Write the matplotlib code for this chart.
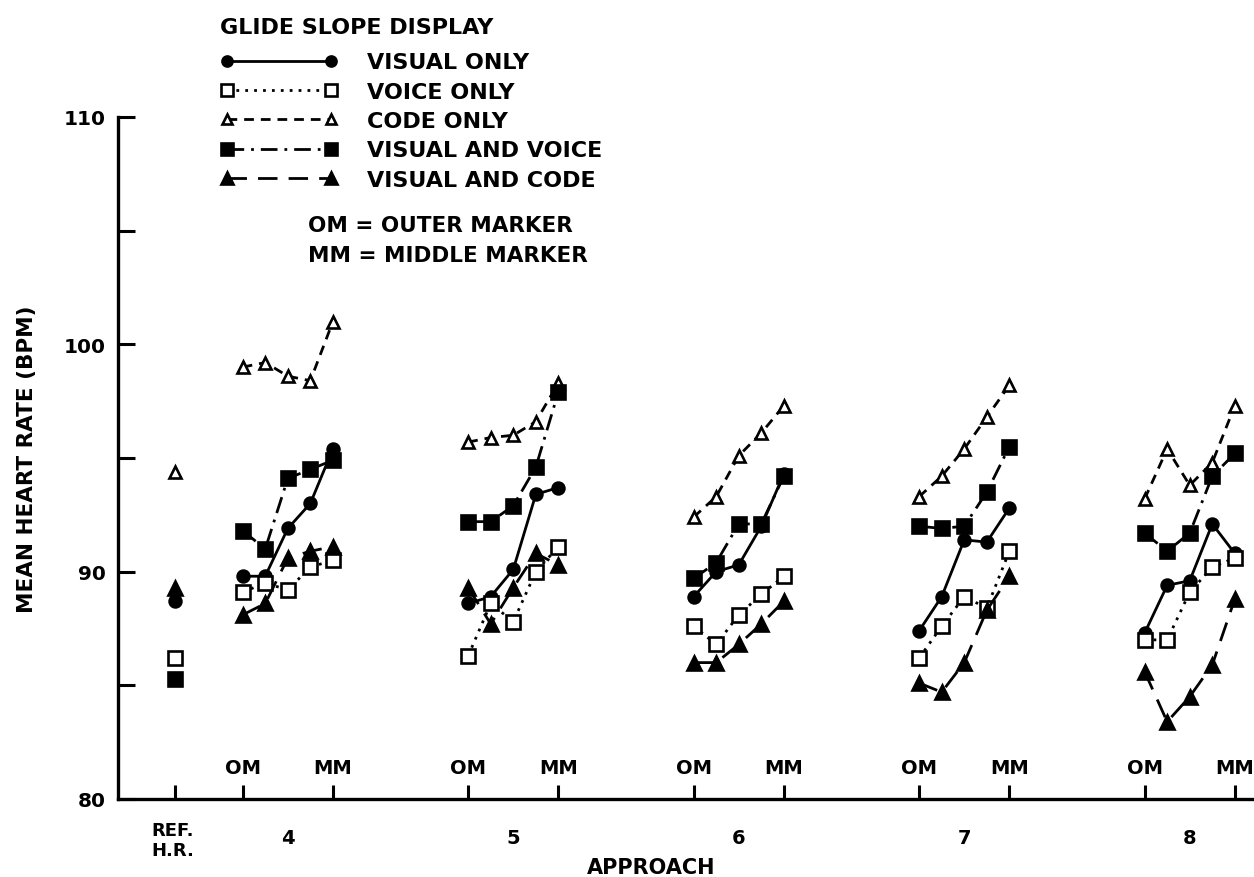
import matplotlib
matplotlib.use("Agg")
import matplotlib.pyplot as plt

# ---------- data (mean heart rate, bpm) ----------
approaches = ["4", "5", "6", "7", "8"]
series_names = ["VISUAL ONLY", "VOICE ONLY", "CODE ONLY",
                "VISUAL AND VOICE", "VISUAL AND CODE"]

# reference heart rate per display
ref_hr = [88.7, 86.2, 94.4, 85.3, 89.3]

# 5 points per approach, OM -> MM
visual_only = [[89.8, 89.8, 91.9, 93.0, 95.4],
               [88.6, 88.9, 90.1, 93.4, 93.7],
               [88.9, 90.0, 90.3, 92.0, 94.3],
               [87.4, 88.9, 91.4, 91.3, 92.8],
               [87.3, 89.4, 89.6, 92.1, 90.8]]
voice_only = [[89.1, 89.5, 89.2, 90.2, 90.5],
              [86.3, 88.6, 87.8, 90.0, 91.1],
              [87.6, 86.8, 88.1, 89.0, 89.8],
              [86.2, 87.6, 88.9, 88.4, 90.9],
              [87.0, 87.0, 89.1, 90.2, 90.6]]
code_only = [[99.0, 99.2, 98.6, 98.4, 101.0],
             [95.7, 95.9, 96.0, 96.6, 98.3],
             [92.4, 93.3, 95.1, 96.1, 97.3],
             [93.3, 94.2, 95.4, 96.8, 98.2],
             [93.2, 95.4, 93.8, 94.8, 97.3]]
visual_voice = [[91.8, 91.0, 94.1, 94.5, 94.9],
                [92.2, 92.2, 92.9, 94.6, 97.9],
                [89.7, 90.4, 92.1, 92.1, 94.2],
                [92.0, 91.9, 92.0, 93.5, 95.5],
                [91.7, 90.9, 91.7, 94.2, 95.2]]
visual_code = [[88.1, 88.6, 90.6, 90.9, 91.1],
               [89.3, 87.7, 89.3, 90.8, 90.3],
               [86.0, 86.0, 86.8, 87.7, 88.7],
               [85.1, 84.7, 86.0, 88.3, 89.8],
               [85.6, 83.4, 84.5, 85.9, 88.8]]

all_series = [visual_only, voice_only, code_only, visual_voice, visual_code]

# ---------- styles ----------
FONT = {"family": "DejaVu Sans", "weight": "bold"}
LW = 2.0
styles = [
    dict(marker="o", ls="-", mfc="black", ms=8.5),
    dict(marker="s", ls=(0, (1, 2.2)), mfc="white", ms=9.5),
    dict(marker="^", ls=(0, (3.5, 2.5)), mfc="white", ms=9),
    dict(marker="s", ls=(0, (6, 2.5, 1, 2.5)), mfc="black", ms=10.5),
    dict(marker="^", ls=(0, (7, 4)), mfc="black", ms=10),
]

plt.rcParams["font.family"] = "DejaVu Sans"
plt.rcParams["font.weight"] = "bold"

W, H = 1254, 878
fig = plt.figure(figsize=(W / 100, H / 100), dpi=100)
ax = fig.add_axes([118 / W, (H - 800) / H, (W - 118) / W, (800 - 118) / H])

# x position: ref at 0, OM of approach k at 3 + 10k, MM at 7 + 10k
def xpos(k, j):
    return 3 + 10 * k + j

handles = []
for s, st in zip(all_series, styles):
    h = None
    for k, vals in enumerate(s):
        xs = [xpos(k, j) for j in range(len(vals))]
        h, = ax.plot(xs, vals, color="black", lw=LW, mec="black", mew=1.9,
                     marker=st["marker"], ls=st["ls"], mfc=st["mfc"], ms=st["ms"])
    handles.append(h)
for v, st in zip(ref_hr, styles):
    ax.plot([0], [v], ls="none", marker=st["marker"], mfc=st["mfc"], ms=st["ms"],
            mec="black", mew=1.9)

# ---------- axes ----------
ax.set_xlim(-2.53, 47.85)
ax.set_ylim(80, 110)
for sp in ["top", "right"]:
    ax.spines[sp].set_visible(False)
ax.spines["left"].set_linewidth(2.4)
ax.spines["bottom"].set_linewidth(2.4)

ax.set_yticks([80, 90, 100, 110])
ax.set_yticks([85, 95, 105], minor=True)
ax.set_yticklabels(["80", "90", "100", "110"], fontdict=dict(size=14.5, **FONT))
ax.tick_params(axis="y", which="both", direction="in", length=12, width=2.2, pad=9)

marker_ticks = [0] + [xpos(k, j) for k in range(len(approaches)) for j in (0, 4)]
ax.set_xticks(marker_ticks)
ax.set_xticklabels([""] * len(marker_ticks))
ax.tick_params(axis="x", which="both", direction="in", length=10, width=2.2)

for k in range(len(approaches)):
    ax.text(xpos(k, 0), 81.4, "OM", ha="center", va="center", fontsize=14, **FONT)
    ax.text(xpos(k, 4), 81.4, "MM", ha="center", va="center", fontsize=14, **FONT)

btrans = ax.get_xaxis_transform()
ax.text(-0.1, -0.06, "REF.\nH.R.", transform=btrans, ha="center", va="center",
        fontsize=13, linespacing=1.15, **FONT)
for k, lab in enumerate(approaches):
    ax.text(xpos(k, 2), -0.056, lab, transform=btrans, ha="center", va="center",
            fontsize=14, **FONT)
ax.text(21.1, -0.1, "APPROACH", transform=btrans, ha="center", va="center",
        fontsize=15, **FONT)

ax.set_ylabel("MEAN HEART RATE (BPM)", fontsize=15.5, **FONT)
ax.yaxis.set_label_coords(-0.071, 0.5)

# ---------- legend ----------
leg = fig.legend(handles, series_names, loc="upper left",
                 bbox_to_anchor=(220 / W, 1 - 18 / H), frameon=False,
                 numpoints=2, handlelength=5.3, handletextpad=1.3,
                 labelspacing=0.42, borderpad=0, borderaxespad=0,
                 markerscale=0.85,
                 title="GLIDE SLOPE DISPLAY", alignment="left",
                 prop=dict(size=16, **FONT),
                 title_fontproperties=dict(size=16, **FONT))
leg._legend_box.sep = 11

fig.text(308 / W, 1 - 226 / H, "OM = OUTER MARKER", ha="left", va="center",
         fontsize=15.5, **FONT)
fig.text(308 / W, 1 - 256 / H, "MM = MIDDLE MARKER", ha="left", va="center",
         fontsize=15.5, **FONT)

fig.savefig("out.png", dpi=100)
